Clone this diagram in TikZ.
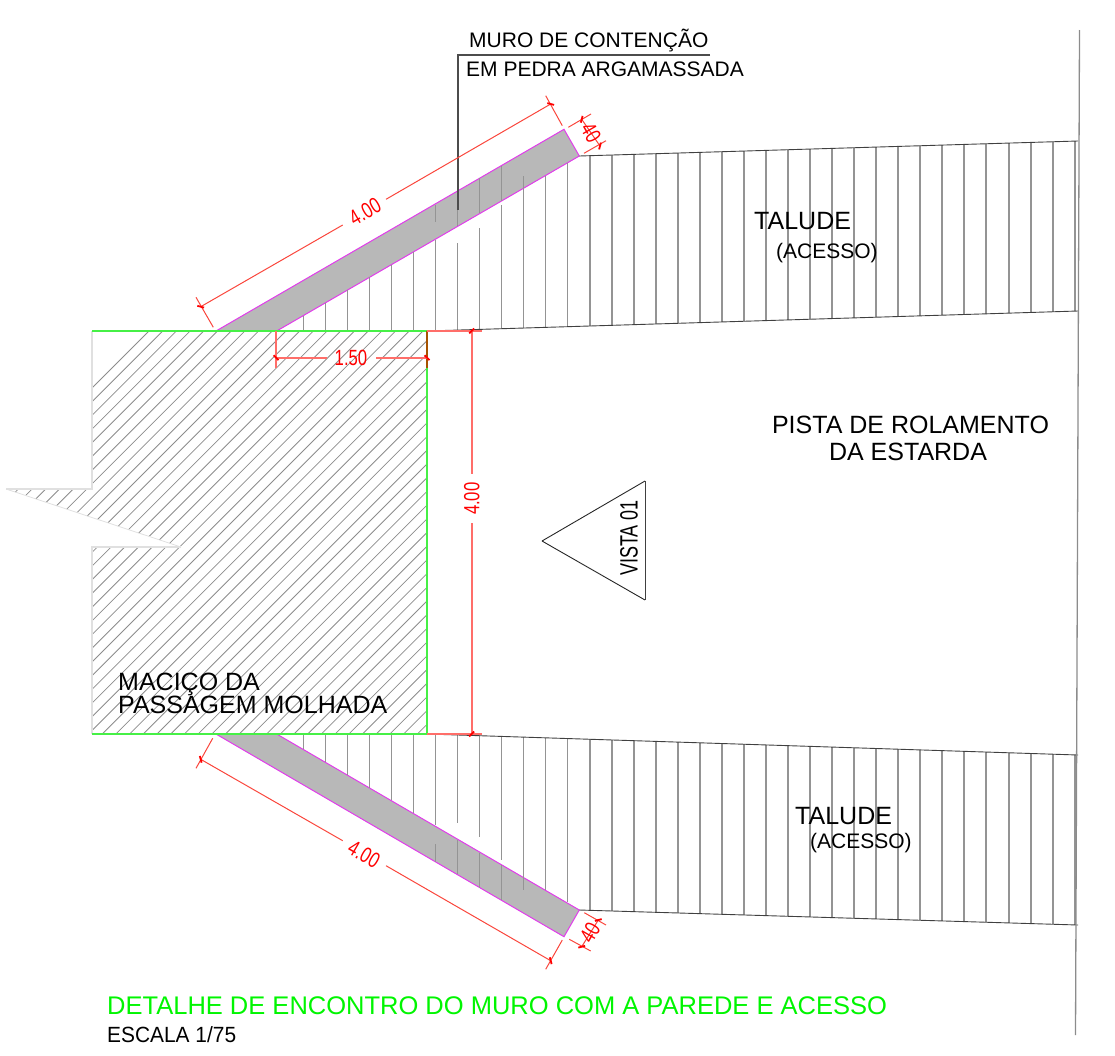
\documentclass[tikz,border=0pt]{standalone}
\usepackage{fontspec}
\setmainfont{Liberation Sans}
\newfontfamily\dimfont[FakeStretch=0.76]{Liberation Sans}
\newfontfamily\vistafont[FakeStretch=0.72]{Liberation Sans}
\newfontfamily\escfont[FakeStretch=0.95]{Liberation Sans}
\definecolor{wallgray}{gray}{0.72}
\definecolor{mag}{RGB}{225,60,235}
\definecolor{grn}{RGB}{70,240,70}
\definecolor{dimred}{RGB}{250,70,60}
\definecolor{softred}{RGB}{255,110,105}
\definecolor{titlegreen}{RGB}{0,245,0}
\tikzset{
  lbl/.style={inner sep=0pt,font=\fontsize{21}{21}\selectfont,text=black},
  biglbl/.style={inner sep=0pt,font=\fontsize{25}{25}\selectfont,text=black},
  dimtxt/.style={inner sep=0pt,font=\dimfont\fontsize{22}{22}\selectfont,text=red},
  hatchline/.style={draw=black!45,line width=0.8pt},
  taludeline/.style={draw=black!42,line width=1.3pt},
  edgeline/.style={draw=black!75,line width=0.9pt},
  dimline/.style={draw=dimred,line width=1pt},
  dimlinestraight/.style={draw=softred,line width=1.9pt},
  tick/.style={draw=red,line width=1.8pt},
  wall/.style={fill=wallgray,draw=mag,line width=1pt}
}
\newcommand{\dimtick}[3]{\draw[tick] (#1,#2) ++(#3+45:3.5) -- ++(#3+225:7);}
\begin{document}
\begin{tikzpicture}[x=1pt,y=-1pt]
\useasboundingbox (0,0) rectangle (1115,1055);
% massif hatch
\begin{scope}
  \clip (92,331) -- (427,331) -- (427,734) -- (92,734) -- (92,547) -- (181,547) -- (6,489) -- (92,489) -- cycle;
  \foreach \i in {0,...,50} {
    \draw[hatchline] ({-280+13.7*\i},760) -- ++(520,-520);
  }
\end{scope}
\draw[draw=black!12,line width=1.3pt] (92,331) -- (92,489) -- (6,489);
\draw[draw=black!12,line width=0.8pt] (6,489) -- (181,547);
\draw[draw=black!12,line width=1.3pt] (181,547) -- (92,547) -- (92,734);
% walls
\draw[wall] (216,331) -- (564,129.3) -- (579.3,156) -- (276.7,331) -- cycle;
\draw[wall] (216,734) -- (564,936.7) -- (579.3,910) -- (276.7,734) -- cycle;
% upper talude
\foreach \x/\a in {303.3/315.6,325.3/302.9,347.3/290.2,369.3/277.4,391.3/264.7,413.3/252,435.7/240,457.3/243,479.3/228,501.7/205,523.7/176,545.7/176,567.7/162.7,590/155.7,612/155,634/154.3,656/153.6,678/153,700/152.3,722/151.7,744/151,766/150.4,788/149.7,810/149,832/148.4,854/147.7,876/147.1,898/146.4,920/145.8,942/145.1,964/144.5,986/143.8,1009/143.1,1031/142.5,1053/141.8,1075/141.2} {
  \pgfmathsetmacro\b{\x<427?331:331-(\x-427)*20/651}
  \draw[taludeline] (\x,\a) -- (\x,\b);
}
\foreach \x/\a/\b in {435.7/205/221.7,457.3/191/226,479.3/178/213,501.7/166/200.7} {
  \draw[taludeline] (\x,\a) -- (\x,\b);
}
% lower talude
\foreach \x/\b in {303.3/749.4,325.3/762.1,347.3/774.8,369.3/787.6,391.3/800.3,413.3/813,435.7/825,457.3/822.7,479.3/837,501.7/860,523.7/890,545.7/889.6,567.7/902.3,590/910.3,612/911,634/911.6,656/912.3,678/912.9,700/913.6,722/914.2,744/914.9,766/915.6,788/916.2,810/916.9,832/917.5,854/918.2,876/918.8,898/919.5,920/920.1,942/920.8,964/921.4,986/922.1,1009/922.8,1031/923.5,1053/924.1,1075/924.8} {
  \pgfmathsetmacro\a{\x<427?734:734+(\x-427)*21/651}
  \draw[taludeline] (\x,\a) -- (\x,\b);
}
\foreach \x/\a/\b in {435.7/844/861.7,457.3/840/874,479.3/852.7/887.7,501.7/865/900} {
  \draw[taludeline] (\x,\a) -- (\x,\b);
}
% talude edges
\draw[edgeline] (579.3,156) -- (1078,141);
\draw[edgeline] (427,331) -- (1078,311);
\draw[edgeline] (427,734) -- (1078,755);
\draw[edgeline] (579.3,910) -- (1078,925);
\draw[draw=black!45,line width=1.3pt] (1079.5,30) -- (1075.5,1035);
% massif outline
\draw[draw=grn,line width=1.4pt] (92,331) -- (427,331) -- (427,734) -- (92,734);
\draw[draw=black!35!orange,line width=1.4pt] (427,331) -- (427,368);
% leader
\draw[draw=black!70,line width=1.3pt] (710,55) -- (458,55) -- (458,210);
% triangle
\draw[draw=black!85,line width=0.9pt] (542,541) -- (645,481);
\draw[draw=black!75,line width=1pt] (645,481) -- (645,600);
\draw[draw=black!85,line width=0.9pt] (645,600) -- (542,541);
% dimensions: upper 4.00
\draw[dimline] (200.7,306.7) -- (342.7,225) (386,199.3) -- (550.7,104);
\draw[dimline] (196,297.3) -- (213.3,327.3) (545.7,95.7) -- (562.3,125.7);
\dimtick{200.7}{306.7}{-30}\dimtick{550.7}{104}{-30}
% upper 40
\draw[dimline] (581.7,119.3) -- (600,146);
\draw[dimline] (568.3,127.3) -- (591,114) (584,153.3) -- (606,140.7);
\dimtick{581.7}{119.3}{60}\dimtick{600}{146}{60}
% 1.50
\draw[dimlinestraight] (276,357.7) -- (327.3,357.7) (376,357.7) -- (427,357.7);
\draw[dimlinestraight] (275.7,331) -- (275.7,368);
\dimtick{276}{357.7}{0}\dimtick{427}{357.7}{0}
% vertical 4.00
\draw[dimlinestraight] (471.7,331) -- (471.7,474) (471.7,523) -- (471.7,734);
\draw[dimlinestraight] (427,331) -- (482,331) (427,734) -- (482,734);
\dimtick{471.7}{331}{90}\dimtick{471.7}{734}{90}
% lower 4.00
\draw[dimline] (200.7,759.3) -- (342.7,840.7) (386,865.7) -- (550.7,960.7);
\draw[dimline] (196,768.3) -- (212.7,738.3) (545.7,969.3) -- (562.3,940);
\dimtick{200.7}{759.3}{30}\dimtick{550.7}{960.7}{30}
% lower 40
\draw[dimline] (581.7,946.7) -- (598.3,920);
\draw[dimline] (569.3,939.3) -- (590.7,951) (584.3,912.7) -- (606,925);
\dimtick{581.7}{946.7}{-60}\dimtick{598.3}{920}{-60}
% dimension texts
\node[dimtxt,rotate=30] (d1) at (365,211.7) {4.00};
\node[dimtxt,rotate=-60] (d2) at (591,132.7) {40};
\node[dimtxt] (d3) at (351,358) {1.50};
\node[dimtxt,rotate=90] (d4) at (471.7,498.7) {4.00};
\node[dimtxt,rotate=-30] (d5) at (364,854.3) {4.00};
\node[dimtxt,rotate=60] (d6) at (590,933) {40};
% labels
\node[lbl,anchor=base west] (t1) at (469,47.5) {MURO DE CONTENÇÃO};
\node[lbl,anchor=west] (t2) at (466,69) {EM PEDRA ARGAMASSADA};
\node[biglbl,anchor=west] (t3) at (754,221) {TALUDE};
\node[lbl,anchor=west] (t4) at (776,253) {(ACESSO)};
\node[biglbl,anchor=center] (t5) at (910.5,425) {PISTA DE ROLAMENTO};
\node[biglbl,anchor=center] (t6) at (908,452) {DA ESTARDA};
\node[biglbl,anchor=base west] (t7) at (118,690) {MACIÇO DA};
\node[biglbl,anchor=base west] (t8) at (118,713) {PASSAGEM MOLHADA};
\node[biglbl,anchor=west] (t9) at (795,816) {TALUDE};
\node[lbl,anchor=west] (t10) at (810,843) {(ACESSO)};
\node[inner sep=0pt,font=\vistafont\fontsize{25}{25}\selectfont,rotate=90] (t11) at (629,538) {VISTA 01};
\node[inner sep=0pt,anchor=west,font=\fontsize{25.5}{25.5}\selectfont,text=titlegreen] (t12) at (107,1006) {DETALHE DE ENCONTRO DO MURO COM A PAREDE E ACESSO};
\node[inner sep=0pt,anchor=west,font=\escfont\fontsize{22}{22}\selectfont] (t13) at (107,1035) {ESCALA 1/75};
\end{tikzpicture}
\end{document}
